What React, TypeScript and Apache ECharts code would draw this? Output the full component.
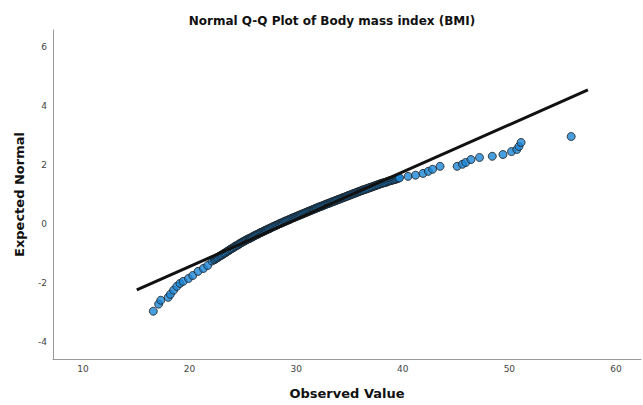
import React, { useEffect, useRef } from "react";
import * as echarts from "echarts";

// [observed BMI, expected normal]
const lowerTail: [number, number][] = [
  [16.6, -2.96], [17.1, -2.72], [17.3, -2.59], [18.0, -2.49], [18.2, -2.39], [18.5, -2.25],
  [18.8, -2.12], [19.1, -2.02], [19.4, -1.95], [19.9, -1.85], [20.3, -1.75], [20.8, -1.61],
  [21.3, -1.51], [21.7, -1.41], [22.1, -1.26],
];
const middle: [number, number][] = [
  [22.3, -1.22], [22.4, -1.2], [22.5, -1.17], [22.6, -1.15], [22.7, -1.13], [22.8, -1.1], [22.9, -1.08], [23.0, -1.06],
  [23.1, -1.04], [23.2, -1.01], [23.3, -0.99], [23.4, -0.97], [23.5, -0.94], [23.6, -0.92], [23.7, -0.9], [23.8, -0.87], [23.9, -0.85], [24.0, -0.83],
  [24.1, -0.81], [24.2, -0.78], [24.3, -0.76], [24.4, -0.74], [24.5, -0.72], [24.6, -0.7], [24.7, -0.67], [24.8, -0.65], [24.9, -0.63], [25.0, -0.61],
  [25.1, -0.59], [25.2, -0.57], [25.3, -0.55], [25.4, -0.53], [25.5, -0.51], [25.6, -0.5], [25.7, -0.48], [25.8, -0.46], [25.9, -0.44], [26.0, -0.42],
  [26.1, -0.4], [26.2, -0.38], [26.3, -0.37], [26.4, -0.35], [26.5, -0.33], [26.6, -0.31], [26.7, -0.29], [26.8, -0.28], [26.9, -0.26], [27.0, -0.24],
  [27.1, -0.22], [27.2, -0.21], [27.3, -0.19], [27.4, -0.17], [27.5, -0.16], [27.6, -0.14], [27.7, -0.12], [27.8, -0.1], [27.9, -0.09], [28.0, -0.07],
  [28.1, -0.05], [28.2, -0.04], [28.3, -0.02], [28.4, 0.0], [28.5, 0.01], [28.6, 0.03], [28.7, 0.04], [28.8, 0.06], [28.9, 0.08], [29.0, 0.09],
  [29.1, 0.11], [29.2, 0.12], [29.3, 0.14], [29.4, 0.15], [29.5, 0.17], [29.6, 0.19], [29.7, 0.2], [29.8, 0.22], [29.9, 0.23], [30.0, 0.25],
  [30.1, 0.26], [30.2, 0.28], [30.3, 0.29], [30.4, 0.31], [30.5, 0.32], [30.6, 0.34], [30.7, 0.35], [30.8, 0.37], [30.9, 0.38], [31.0, 0.4],
  [31.1, 0.41], [31.2, 0.43], [31.3, 0.44], [31.4, 0.46], [31.5, 0.47], [31.6, 0.49], [31.7, 0.5], [31.8, 0.52], [31.9, 0.53], [32.0, 0.55],
  [32.1, 0.56], [32.2, 0.58], [32.3, 0.59], [32.4, 0.6], [32.5, 0.62], [32.6, 0.63], [32.7, 0.65], [32.8, 0.66], [32.9, 0.68], [33.0, 0.69],
  [33.1, 0.7], [33.2, 0.72], [33.3, 0.73], [33.4, 0.75], [33.5, 0.76], [33.6, 0.77], [33.7, 0.79], [33.8, 0.8], [33.9, 0.82], [34.0, 0.83],
  [34.1, 0.84], [34.2, 0.86], [34.3, 0.87], [34.4, 0.89], [34.5, 0.9], [34.6, 0.91], [34.7, 0.93], [34.8, 0.94], [34.9, 0.96], [35.0, 0.97],
  [35.1, 0.98], [35.2, 1.0], [35.3, 1.01], [35.4, 1.03], [35.5, 1.04], [35.6, 1.05], [35.7, 1.07], [35.8, 1.08], [35.9, 1.1], [36.0, 1.11],
  [36.1, 1.12], [36.2, 1.14], [36.3, 1.15], [36.4, 1.16], [36.5, 1.17], [36.6, 1.19], [36.7, 1.2], [36.8, 1.21], [36.9, 1.23], [37.0, 1.24],
  [37.1, 1.25], [37.2, 1.26], [37.3, 1.28], [37.4, 1.29], [37.5, 1.3], [37.6, 1.32], [37.7, 1.33], [37.8, 1.34], [37.9, 1.36], [38.0, 1.37],
  [38.1, 1.38], [38.2, 1.39], [38.3, 1.4], [38.4, 1.41], [38.5, 1.42], [38.6, 1.44], [38.7, 1.45], [38.8, 1.46], [38.9, 1.47], [39.0, 1.48],
  [39.1, 1.49], [39.2, 1.5], [39.3, 1.51], [39.4, 1.52], [39.5, 1.54], [39.6, 1.55], [39.7, 1.56],
];
const upperTail: [number, number][] = [
  [40.5, 1.61], [41.2, 1.65], [41.9, 1.71], [42.4, 1.78], [42.8, 1.85], [43.5, 1.95],
  [45.1, 1.95], [45.6, 2.02], [45.9, 2.08], [46.4, 2.18], [47.2, 2.25], [48.4, 2.29],
  [49.4, 2.35], [50.2, 2.45], [50.7, 2.52], [50.9, 2.62], [51.1, 2.76], [55.8, 2.96],
];
const refLineX: number[] = [15.05, 57.37];
const refLineY: number[] = [-2.24, 4.54];
const xTicks: number[] = [10, 20, 30, 40, 50, 60];
const yTicks: number[] = [-4, -2, 0, 2, 4, 6];

const FONT = "'DejaVu Sans', 'Liberation Sans', sans-serif";

export default function App() {
  const ref = useRef<HTMLDivElement>(null);
  useEffect(() => {
    if (!ref.current) return;
    const chart = echarts.init(ref.current, undefined, { renderer: "svg" });
    chart.setOption({
      animation: false,
      backgroundColor: "#ffffff",
      title: {
        text: "Normal Q-Q Plot of Body mass index (BMI)",
        left: 327,
        top: 10,
        textAlign: "center",
        textStyle: { fontFamily: FONT, fontSize: 12, fontWeight: "bold", color: "#111" },
      },
      grid: { left: 53, right: 2, top: 30, bottom: 44, containLabel: false },
      xAxis: {
        type: "value",
        min: 7.19,
        max: 62.35,
        name: "Observed Value",
        nameLocation: "middle",
        nameGap: 28,
        nameTextStyle: { fontFamily: FONT, fontSize: 13, fontWeight: "bold", color: "#111" },
        axisLine: { show: true, onZero: false, lineStyle: { color: "#9a9a9a", width: 1 } },
        axisTick: { show: false },
        splitLine: { show: false },
        axisLabel: { customValues: xTicks, fontFamily: FONT, fontSize: 9, color: "#444", margin: 5 },
      },
      yAxis: {
        type: "value",
        min: -4.58,
        max: 6.57,
        name: "Expected Normal",
        nameLocation: "middle",
        nameGap: 27,
        nameRotate: 90,
        nameTextStyle: { fontFamily: FONT, fontSize: 13, fontWeight: "bold", color: "#111" },
        axisLine: { show: true, onZero: false, lineStyle: { color: "#9a9a9a", width: 1 } },
        axisTick: { show: false },
        splitLine: { show: false },
        axisLabel: { customValues: yTicks, fontFamily: FONT, fontSize: 9, color: "#444", margin: 6 },
      },
      series: [
        {
          type: "scatter",
          data: [...lowerTail, ...middle, ...upperTail],
          symbol: "circle",
          symbolSize: 8,
          itemStyle: { color: "#1c86d6", borderColor: "#1a1a1a", borderWidth: 1 },
          z: 2,
        },
        {
          type: "line",
          data: refLineX.map((x, i) => [x, refLineY[i]]),
          symbol: "none",
          lineStyle: { color: "#111", width: 3 },
          z: 3,
        },
      ],
    });
    return () => chart.dispose();
  }, []);
  return <div ref={ref} style={{ width: 643, height: 405, position: "fixed", left: 0, top: 0 }} />;
}
